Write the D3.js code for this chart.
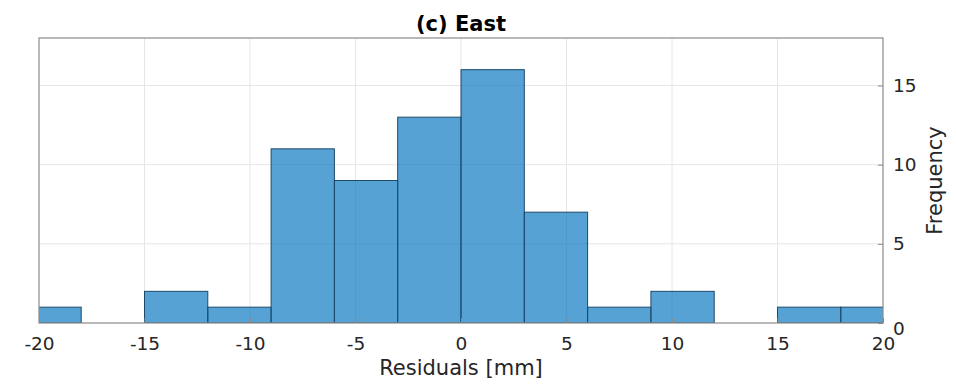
<!DOCTYPE html>
<html>
<head>
<meta charset="utf-8">
<script src="https://cdn.jsdelivr.net/npm/d3@7"></script>
<style>
  body { margin: 0; background: #fff; }
  text { font-family: "DejaVu Sans", sans-serif; }
</style>
</head>
<body>
<div id="chart"></div>
<script>
// histogram bins (width 3 mm) and their counts
var binEdges = [-21, -18, -15, -12, -9, -6, -3, 0, 3, 6, 9, 12, 15, 18, 21];
var counts = [1, 0, 2, 1, 11, 9, 13, 16, 7, 1, 2, 0, 1, 1];
var xTicks = [-20, -15, -10, -5, 0, 5, 10, 15, 20];
var yTicks = [0, 5, 10, 15];

var width = 956, height = 385;
var margin = {top: 38, right: 73, bottom: 62, left: 39};

var svg = d3.select("#chart")
	.append("svg")
	.attr("width", width)
	.attr("height", height);

var x = d3.scaleLinear().domain([-20, 20]).range([margin.left, width - margin.right]);
var y = d3.scaleLinear().domain([0, 18]).range([height - margin.bottom, margin.top]);

svg.append("defs").append("clipPath").attr("id", "clip")
	.append("rect")
	.attr("x", margin.left).attr("y", margin.top)
	.attr("width", x(20) - x(-20)).attr("height", y(0) - y(18));

// grid
svg.append("g").selectAll("line.vg")
	.data(xTicks.slice(1, -1))
	.enter().append("line")
	.attr("x1", function (d) { return x(d); }).attr("x2", function (d) { return x(d); })
	.attr("y1", y(0)).attr("y2", y(18))
	.attr("stroke", "#e6e6e6").attr("stroke-width", 1);
svg.append("g").selectAll("line.hg")
	.data(yTicks.slice(1))
	.enter().append("line")
	.attr("x1", x(-20)).attr("x2", x(20))
	.attr("y1", function (d) { return y(d); }).attr("y2", function (d) { return y(d); })
	.attr("stroke", "#e6e6e6").attr("stroke-width", 1);

// bars
var bins = counts.map(function (c, i) { return {x0: binEdges[i], x1: binEdges[i + 1], n: c}; })
	.filter(function (d) { return d.n > 0; });

svg.append("g").attr("clip-path", "url(#clip)")
	.selectAll("rect")
	.data(bins)
	.enter().append("rect")
	.attr("x", function (d) { return x(d.x0); })
	.attr("y", function (d) { return y(d.n); })
	.attr("width", function (d) { return x(d.x1) - x(d.x0); })
	.attr("height", function (d) { return y(0) - y(d.n); })
	.attr("fill", "rgb(0,114,189)")
	.attr("fill-opacity", 0.66)
	.attr("stroke", "#1d4a6a")
	.attr("stroke-width", 1);

// box
svg.append("rect")
	.attr("x", x(-20)).attr("y", y(18))
	.attr("width", x(20) - x(-20)).attr("height", y(0) - y(18))
	.attr("fill", "none").attr("stroke", "#8a8a8a").attr("stroke-width", 1.2);

// axes
var xAxis = svg.append("g")
	.attr("transform", "translate(0," + y(0) + ")")
	.call(d3.axisBottom(x).tickValues(xTicks).tickSize(-5).tickPadding(14).tickFormat(d3.format("d")));
var yAxis = svg.append("g")
	.attr("transform", "translate(" + x(20) + ",0)")
	.call(d3.axisRight(y).tickValues(yTicks).tickSize(-5).tickPadding(10));

[xAxis, yAxis].forEach(function (a) {
	a.select(".domain").remove();
	a.selectAll(".tick line").attr("stroke", "#8a8a8a");
	a.selectAll(".tick text").attr("fill", "#262626").style("font-size", "18.5px")
		.style("font-family", "DejaVu Sans, sans-serif");
});
xAxis.selectAll(".tick text").text(function (d) { return d < 0 ? "-" + Math.abs(d) : d; });
yAxis.selectAll(".tick text").filter(function (d) { return d === 0; }).attr("dy", "0.6em");

// labels
svg.append("text")
	.attr("x", (x(-20) + x(20)) / 2).attr("y", 31)
	.attr("text-anchor", "middle")
	.style("font-size", "21px").style("font-weight", "bold")
	.attr("fill", "#000")
	.text("(c) East");

svg.append("text")
	.attr("x", (x(-20) + x(20)) / 2).attr("y", 375)
	.attr("text-anchor", "middle")
	.style("font-size", "21px")
	.attr("fill", "#262626")
	.text("Residuals [mm]");

svg.append("text")
	.attr("transform", "translate(942," + ((y(0) + y(18)) / 2) + ") rotate(-90)")
	.attr("text-anchor", "middle")
	.style("font-size", "21px")
	.attr("fill", "#262626")
	.text("Frequency");
</script>
</body>
</html>
